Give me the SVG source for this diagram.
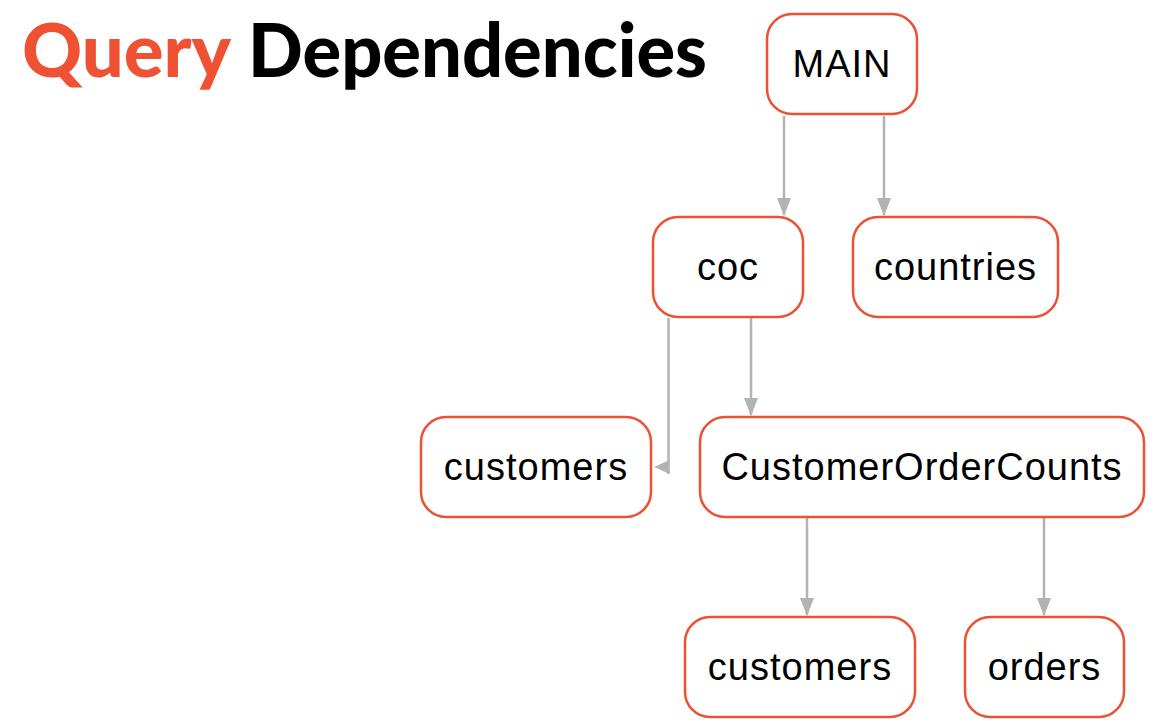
<svg xmlns="http://www.w3.org/2000/svg" width="1156" height="728" viewBox="0 0 1156 728">
<defs>
<style>
.node rect{fill:#ffffff;stroke:#ea5234;stroke-width:2.5}
.node text{font-family:"Liberation Sans",Arial,sans-serif;font-size:38px;letter-spacing:1px;fill:#000;text-anchor:middle}
.edge{stroke:#b3b3b3;stroke-width:2.5;fill:none}
.title{font-family:Lato,"Open Sans",sans-serif;font-weight:900;font-size:74px}
</style>
<marker id="ah" viewBox="0 0 18 14" refX="17" refY="7" markerWidth="18" markerHeight="14" markerUnits="userSpaceOnUse" orient="auto">
<path d="M0,0 L18,7 L0,14 Z" fill="#b3b3b3"/>
</marker>
</defs>
<rect width="1156" height="728" fill="#ffffff"/>
<text class="title" x="22" y="77"><tspan fill="#ef5133" textLength="209" lengthAdjust="spacingAndGlyphs">Query</tspan><tspan x="248" fill="#000000" textLength="459" lengthAdjust="spacingAndGlyphs">Dependencies</tspan></text>
<g id="connectors">
<line class="edge" x1="784" y1="116" x2="784" y2="215" marker-end="url(#ah)"/>
<line class="edge" x1="884" y1="116" x2="884" y2="215" marker-end="url(#ah)"/>
<line class="edge" x1="751" y1="318" x2="751" y2="415" marker-end="url(#ah)"/>
<line class="edge" x1="668.5" y1="318" x2="668.5" y2="474"/>
<polygon points="669.5,460 669.5,474 654,467" fill="#b3b3b3"/>
<line class="edge" x1="807" y1="518" x2="807" y2="615" marker-end="url(#ah)"/>
<line class="edge" x1="1044" y1="518" x2="1044" y2="615" marker-end="url(#ah)"/>
</g>
<g id="node-main" class="node"><rect x="767" y="14" width="150" height="100" rx="25"/><text x="842" y="77">MAIN</text></g>
<g id="node-coc" class="node"><rect x="653" y="217" width="150" height="100" rx="25"/><text x="728" y="280">coc</text></g>
<g id="node-countries" class="node"><rect x="853" y="217" width="205" height="100" rx="25"/><text x="955.5" y="280">countries</text></g>
<g id="node-customers1" class="node"><rect x="421" y="417" width="230" height="100" rx="25"/><text x="536" y="480">customers</text></g>
<g id="node-coc-counts" class="node"><rect x="700" y="417" width="444" height="100" rx="25"/><text x="922" y="480">CustomerOrderCounts</text></g>
<g id="node-customers2" class="node"><rect x="685" y="617" width="230" height="100" rx="25"/><text x="800" y="680">customers</text></g>
<g id="node-orders" class="node"><rect x="965" y="617" width="159" height="100" rx="25"/><text x="1044.5" y="680">orders</text></g>
</svg>
